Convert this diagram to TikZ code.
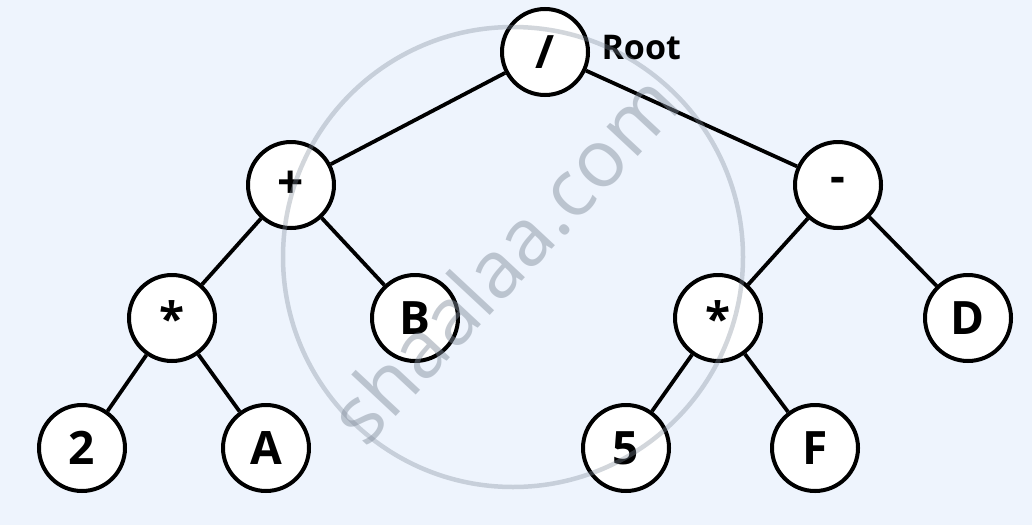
\documentclass[tikz,border=0pt]{standalone}
\usepackage{fontspec}
\setmainfont{Open Sans}
\definecolor{bgc}{HTML}{EEF4FD}
\definecolor{wmc}{HTML}{7F8A99}
\begin{document}
\begin{tikzpicture}[x=1pt,y=-1pt,
  tn/.style={circle,draw=black,line width=4pt,fill=white,minimum size=86pt,inner sep=0pt,font=\bfseries\fontsize{46}{46}\selectfont},
  edge/.style={line width=3.8pt,black}]
\fill[bgc] (0,0) rectangle (1032,525);
\useasboundingbox (0,0) rectangle (1032,525);
% nodes
\node[tn] (r) at (545,52) {/};
\node[font=\bfseries\fontsize{34}{34}\selectfont,anchor=west] (rl) at (598,48) {Root};
\node[tn] (p) at (291,185) {+};
\node[tn] (m) at (838,185) {-};
\node[tn] (s1) at (172,318) {*};
\node[tn] (b) at (415,318) {B};
\node[tn] (s2) at (718,318) {*};
\node[tn] (d) at (968,318) {D};
\node[tn] (n2) at (82,448) {2};
\node[tn] (a) at (266,448) {A};
\node[tn] (n5) at (626,448) {5};
\node[tn] (f) at (815,448) {F};
% edges
\draw[edge] (r) -- (p);
\draw[edge] (r) -- (m);
\draw[edge] (p) -- (s1);
\draw[edge] (p) -- (b);
\draw[edge] (m) -- (s2);
\draw[edge] (m) -- (d);
\draw[edge] (s1) -- (n2);
\draw[edge] (s1) -- (a);
\draw[edge] (s2) -- (n5);
\draw[edge] (s2) -- (f);
% watermark (drawn over, translucent)
\draw[wmc,draw opacity=0.35,line width=4.5pt] (513,257) circle[radius=230];
\node[text=wmc,text opacity=0.45,rotate=47,font=\fontsize{80}{80}\selectfont] (wm) at (503,258) {shaalaa.com};
\end{tikzpicture}
\end{document}
